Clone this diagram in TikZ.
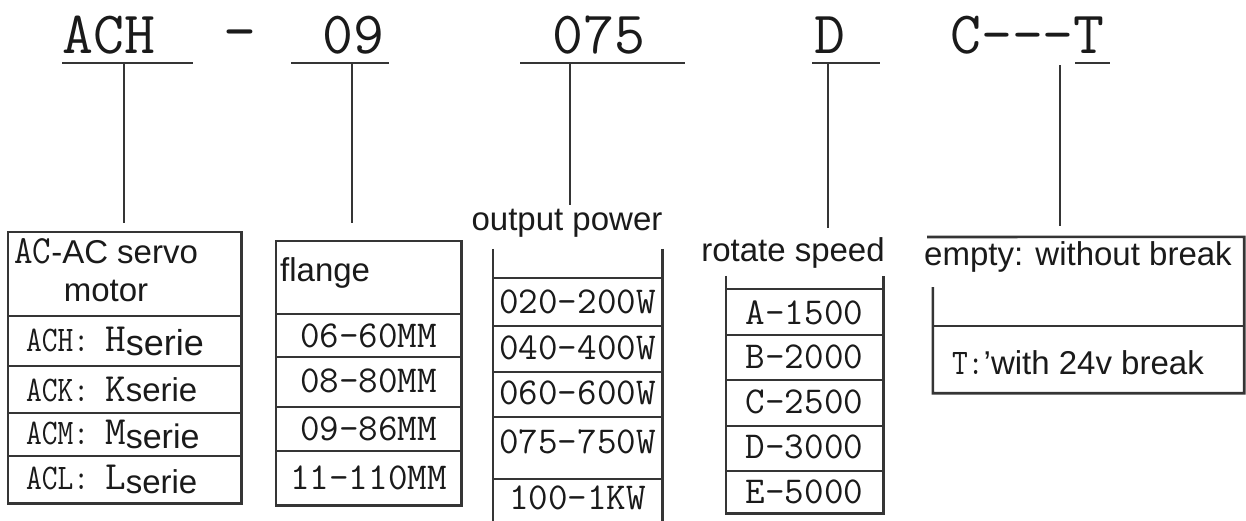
\documentclass[tikz,border=0pt]{standalone}
\usepackage{fontspec}
\setsansfont{Liberation Sans}
\setmonofont{Latin Modern Mono}
\definecolor{lc}{HTML}{353535}
\definecolor{tc}{HTML}{1A1A1A}
\newcommand{\mycd}[1]{\scalebox{0.85}[1]{\ttfamily\fontsize{36}{36}\selectfont #1}}
\newcommand{\mybig}[1]{{\ttfamily\fontsize{40}{40}\selectfont #1}}
\begin{document}
\begin{tikzpicture}[x=1pt,y=-1pt,
  ln/.style={draw=lc, line width=2.6pt},
  uline/.style={draw=lc, line width=2pt},
  conn/.style={draw=lc, line width=2.6pt},
  big/.style={font=\fontsize{60}{60}\selectfont\ttfamily, inner sep=0, text=tc, anchor=base west},
  code/.style={font=\fontsize{38}{38}\selectfont\ttfamily, inner sep=0, text=tc},
  lbl/.style={font=\fontsize{33}{36}\selectfont\sffamily, inner sep=0, text=tc},
  frame/.style={draw=none, inner sep=0}
]
\fill[white] (0,0) rectangle (1246,520);
\useasboundingbox (0,0) rectangle (1246,520);

% ---- top code labels
\node[big] (tACH) at (62,53) {ACH};
\node[big, anchor=center, font=\fontsize{64}{64}\selectfont\ttfamily] (tdash) at (240,41) {-};
\node[big] (t09) at (322,53) {09};
\node[big] (t075) at (552,53) {075};
\node[big] (tD) at (814,53) {D};
\node[big] (tCT) at (950,53) {C{-}{-}{-}T};

% underlines
\draw[uline] (62,63) -- (193,63);
\draw[uline] (291,63) -- (389,63);
\draw[uline] (520,63) -- (685,63);
\draw[uline] (812,63) -- (880,63);
\draw[uline] (1075,63) -- (1110,63);

% connector start points
\coordinate (c1) at (124,63);
\coordinate (c2) at (352,63);
\coordinate (c3) at (570,63);
\coordinate (c4) at (828,63);
\coordinate (c5) at (1060,65);

% ---- box 1
\node[frame, minimum width=233pt, minimum height=271pt] (b1) at (124.5,367.5) {};
\draw[ln] (b1.north west) rectangle (b1.south east);
\foreach \yy in {316,366,413,456} \draw[ln] (b1.west |- 0,\yy) -- (b1.east |- 0,\yy);
\node[lbl, anchor=west] (b1t1) at (14,251) {\scalebox{0.9}[1]{\mybig{AC}}-AC servo};
\node[lbl] (b1t2) at (106,291) {motor};
\node[lbl, anchor=west] (b1r1) at (26,341) {\mycd{ACH:}\hspace{16pt}\mybig{H}\raisebox{-4pt}{\fontsize{36}{36}\selectfont serie}};
\node[lbl, anchor=west] (b1r2) at (26,389) {\mycd{ACK:}\hspace{16pt}\mybig{K}serie};
\node[lbl, anchor=west] (b1r3) at (26,434) {\mycd{ACM:}\hspace{16pt}\mybig{M}\raisebox{-4pt}{\fontsize{34}{34}\selectfont serie}};
\node[lbl, anchor=west] (b1r4) at (26,479) {\mycd{ACL:}\hspace{16pt}\mybig{L}\raisebox{-4pt}{\fontsize{33}{33}\selectfont serie}};

% ---- box 2
\node[frame, minimum width=185pt, minimum height=264pt] (b2) at (368.5,373) {};
\draw[ln] (b2.north west) rectangle (b2.south east);
\foreach \yy in {314,357,407,451} \draw[ln] (b2.west |- 0,\yy) -- (b2.east |- 0,\yy);
\node[lbl, anchor=west] (b2t) at (280,273) {flange};
\node[code] (b2r1) at (368.5,336) {06-60MM};
\node[code] (b2r2) at (368.5,381) {08-80MM};
\node[code] (b2r3) at (368.5,429) {09-86MM};
\node[code] (b2r4) at (368.5,478) {11-110MM};

% ---- box 3 (output power)
\node[lbl] (b3t) at (567,223) {output power};
\node[frame, minimum width=169pt, minimum height=280pt] (b3) at (577.5,389) {};
\draw[ln] (b3.north west) -- (b3.south west);
\draw[ln] (b3.north east) -- (b3.south east);
\foreach \yy in {278,326,372,417,479} \draw[ln] (b3.west |- 0,\yy) -- (b3.east |- 0,\yy);
\node[code] (b3r1) at (577.5,302) {020-200W};
\node[code] (b3r2) at (577.5,348) {040-400W};
\node[code] (b3r3) at (577.5,393) {060-600W};
\node[code] (b3r4) at (577.5,442) {075-750W};
\node[code] (b3r5) at (577.5,498) {100-1KW};

% ---- box 4 (rotate speed)
\node[lbl] (b4t) at (793,253) {rotate speed};
\node[frame, minimum width=157pt, minimum height=237pt] (b4) at (804.5,394.5) {};
\draw[ln] (b4.north west) -- (b4.south west) -- (b4.south east) -- (b4.north east);
\foreach \yy in {289,335,380,426,471} \draw[ln] (b4.west |- 0,\yy) -- (b4.east |- 0,\yy);
\node[code] (b4r1) at (804.5,313) {A-1500};
\node[code] (b4r2) at (804.5,357) {B-2000};
\node[code] (b4r3) at (804.5,402) {C-2500};
\node[code] (b4r4) at (804.5,447) {D-3000};
\node[code] (b4r5) at (804.5,492) {E-5000};

% ---- box 5 (brake)
\node[frame, minimum width=311pt, minimum height=156pt] (b5) at (1088.5,315) {};
\draw[ln] (927,237) -- (b5.north east) -- (b5.south east) -- (b5.south west) -- (b5.west |- 0,287);
\draw[ln] (b5.west |- 0,326) -- (b5.east |- 0,326);
\node[lbl, anchor=west] (b5t1) at (924,257) {empty: without break};
\node[lbl, anchor=west] (b5t2) at (952,363) {\mycd{T:}'with 24v break};

% ---- connectors
\draw[conn, shorten >=9pt] (c1) -- (c1 |- b1.north);
\draw[conn, shorten >=18pt] (c2) -- (c2 |- b2.north);
\draw[conn, shorten >=4pt] (c3) -- (c3 |- b3t.north);
\draw[conn, shorten >=9pt] (c4) -- (c4 |- b4t.north);
\draw[conn, shorten >=11pt] (c5) -- (c5 |- 0,237);
\end{tikzpicture}
\end{document}
